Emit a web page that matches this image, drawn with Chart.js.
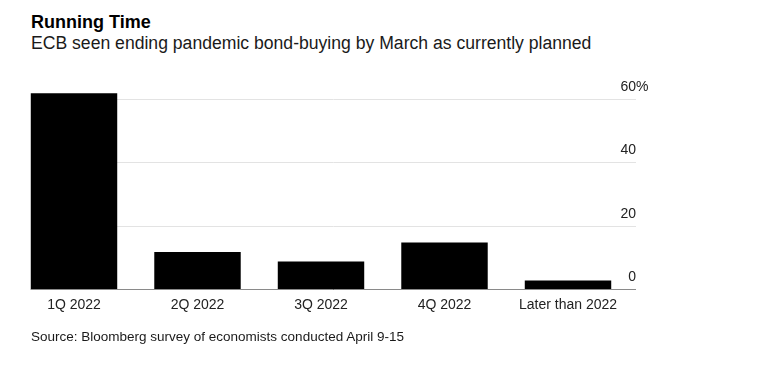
<!DOCTYPE html>
<html>
<head>
<meta charset="utf-8">
<script src="https://cdn.jsdelivr.net/npm/chart.js@4"></script>
<style>
  html, body { margin: 0; padding: 0; background: #fff; }
  body { width: 777px; height: 369px; position: relative; overflow: hidden; font-family: "Liberation Sans", Arial, sans-serif; }
  #c { position: absolute; left: 0; top: 0; }
  .t { position: absolute; left: 31px; white-space: nowrap; color: #000; }
  #title { top: 12.8px; font-size: 18px; line-height: 18px; font-weight: bold; }
  #subtitle { top: 34.6px; font-size: 17.6px; line-height: 17px; color: #1a1a1a; }
  #source { top: 330px; font-size: 13.5px; line-height: 13px; color: #1a1a1a; }
</style>
</head>
<body>
<div class="t" id="title">Running Time</div>
<div class="t" id="subtitle">ECB seen ending pandemic bond-buying by March as currently planned</div>
<canvas id="c" width="777" height="369"></canvas>
<div class="t" id="source">Source: Bloomberg survey of economists conducted April 9-15</div>
<script>
const categories = ['1Q 2022', '2Q 2022', '3Q 2022', '4Q 2022', 'Later than 2022'];
const shares = [62, 12, 9, 15, 3];
const yTickValues = [0, 20, 40, 60];
const yTickLabels = ['0', '20', '40', '60%'];

const FONT = '"Liberation Sans", Arial, sans-serif';
const LINE_LEFT = 31, LINE_RIGHT = 636;

const gridPlugin = {
  id: 'bbgGrid',
  beforeDatasetsDraw(chart) {
    const ctx = chart.ctx, y = chart.scales.y;
    ctx.save();
    ctx.strokeStyle = '#e3e3e3';
    ctx.lineWidth = 1;
    yTickValues.forEach(v => {
      if (v === 0) return;
      const py = Math.round(y.getPixelForValue(v)) - 0.5;
      ctx.beginPath(); ctx.moveTo(LINE_LEFT, py); ctx.lineTo(LINE_RIGHT, py); ctx.stroke();
    });
    ctx.restore();
  },
  afterDatasetsDraw(chart) {
    const ctx = chart.ctx, y = chart.scales.y;
    ctx.save();
    ctx.strokeStyle = '#8a8a8a';
    ctx.lineWidth = 1;
    const py = Math.round(y.getPixelForValue(0)) - 0.5;
    ctx.beginPath(); ctx.moveTo(LINE_LEFT, py); ctx.lineTo(LINE_RIGHT, py); ctx.stroke();
    ctx.fillStyle = '#222';
    ctx.font = '14px ' + FONT;
    ctx.textBaseline = 'alphabetic';
    yTickValues.forEach((v, i) => {
      const lab = yTickLabels[i];
      const m = lab.match(/^([0-9.\-]+)(.*)$/);
      const num = m ? m[1] : lab, suf = m ? m[2] : '';
      const ty = Math.round(y.getPixelForValue(v)) - 9;
      ctx.textAlign = 'right';
      ctx.fillText(num, LINE_RIGHT, ty);
      if (suf) { ctx.textAlign = 'left'; ctx.fillText(suf, LINE_RIGHT, ty); }
    });
    ctx.restore();
  }
};

new Chart(document.getElementById('c'), {
  type: 'bar',
  data: {
    labels: categories,
    datasets: [{
      data: shares,
      backgroundColor: '#000',
      borderColor: '#3a3a3a',
      borderWidth: 0,
      categoryPercentage: 1,
      barPercentage: 0.7
    }]
  },
  options: {
    responsive: false,
    devicePixelRatio: 1,
    animation: false,
    layout: { padding: { left: 12.25, right: 147.25, top: 87, bottom: 48.2 } },
    plugins: { legend: { display: false }, tooltip: { enabled: false }, title: { display: false } },
    scales: {
      x: {
        grid: { display: false, drawTicks: false },
        border: { display: false },
        ticks: { color: '#222', font: { family: FONT, size: 14 }, padding: 7, maxRotation: 0, autoSkip: false }
      },
      y: {
        display: false,
        min: 0, max: 64,
        ticks: { stepSize: 20 }
      }
    }
  },
  plugins: [gridPlugin]
});
</script>
</body>
</html>
